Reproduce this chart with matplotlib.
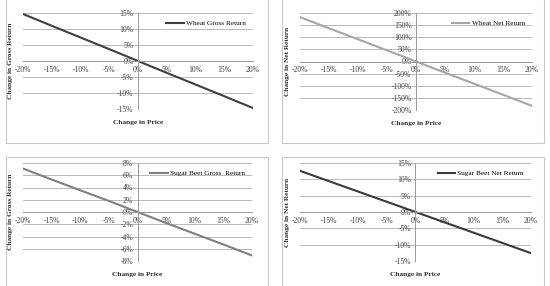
import matplotlib.pyplot as plt
from matplotlib.patches import Rectangle
from matplotlib.ticker import FuncFormatter

plt.rcParams['font.family'] = ['Liberation Serif', 'DejaVu Serif']

# Input data (percent)
price_change = [-20, -15, -10, -5, 0, 5, 10, 15, 20]
wheat_gross = [14.7, 11.0, 7.35, 3.7, 0.0, -3.7, -7.35, -11.0, -14.7]
wheat_net = [183, 137, 91.5, 46, 0, -46, -91.5, -137, -183]
beet_gross = [7.1, 5.3, 3.55, 1.8, 0.0, -1.8, -3.55, -5.3, -7.1]
beet_net = [12.6, 9.45, 6.3, 3.15, 0.0, -3.15, -6.3, -9.45, -12.6]

W, H = 550, 286
fig = plt.figure(figsize=(W / 100, H / 100), dpi=100)


def px(x0, y0, x1, y1):
    # pixel box -> figure fraction
    return [x0 / W, 1 - y1 / H, (x1 - x0) / W, (y1 - y0) / H]


# chart boxes
for x0, y0, x1, y1 in [(6, -2, 268, 143), (282, -2, 544, 143),
                       (6, 157, 268, 290), (282, 157, 544, 290)]:
    b = px(x0, y0, x1, y1)
    fig.patches.append(Rectangle((b[0], b[1]), b[2], b[3], transform=fig.transFigure,
                                 fill=False, edgecolor='#c8c8c8', linewidth=0.8))

panels = [
    (px(23, 13, 253, 109), wheat_gross, 'Wheat Gross Return', 'Change in Gross Return',
     '#3f3f3f', 15, 5),
    (px(300, 13, 532, 110), wheat_net, 'Wheat Net Return', 'Change in Net Return',
     '#a6a6a6', 200, 50),
    (px(23, 163, 252, 261), beet_gross, 'Sugar Beet Gross  Return', 'Change in Gross Return',
     '#7f7f7f', 8, 2),
    (px(300, 163, 531, 261), beet_net, 'Sugar Beet Net Return', 'Change in Net Return',
     '#3a3a3a', 15, 5),
]

pct = FuncFormatter(lambda v, p: '%d%%' % round(v))

for rect, vals, name, ylab, col, lim, step in panels:
    ax = fig.add_axes(rect)
    ax.plot(price_change, vals, color=col, linewidth=1.5, label=name)
    ax.set_xlim(-20, 20)
    ax.set_ylim(-lim, lim)
    ax.set_xticks(range(-20, 21, 5))
    ax.set_yticks(range(-lim, lim + 1, step))
    ax.xaxis.set_major_formatter(pct)
    ax.yaxis.set_major_formatter(pct)
    ax.grid(axis='y', color='#b8b8b8', linewidth=0.7)
    ax.set_axisbelow(True)
    for s in ['top', 'right']:
        ax.spines[s].set_visible(False)
    ax.spines['left'].set_position(('data', 0))
    ax.spines['bottom'].set_position(('data', 0))
    for s in ['left', 'bottom']:
        ax.spines[s].set_color('#9a9a9a')
        ax.spines[s].set_linewidth(0.7)
    ax.tick_params(length=0, labelsize=5.5, labelcolor='#404040')
    ax.tick_params(axis='y', pad=3.2)
    ax.tick_params(axis='x', pad=3.5)
    ax.set_xlabel('Change in Price', fontsize=5.3, fontweight='bold', color='#303030')
    ax.xaxis.set_label_coords(0.5, -0.11)
    ax.set_ylabel(ylab, fontsize=5.3, fontweight='bold', color='#303030')
    ax.yaxis.set_label_coords(-0.045, 0.5)
    ax.legend(loc='upper right', frameon=False, fontsize=5.2, handlelength=2.4,
              handletextpad=0.3, borderaxespad=0.6)

fig.savefig('out.png', dpi=100)
